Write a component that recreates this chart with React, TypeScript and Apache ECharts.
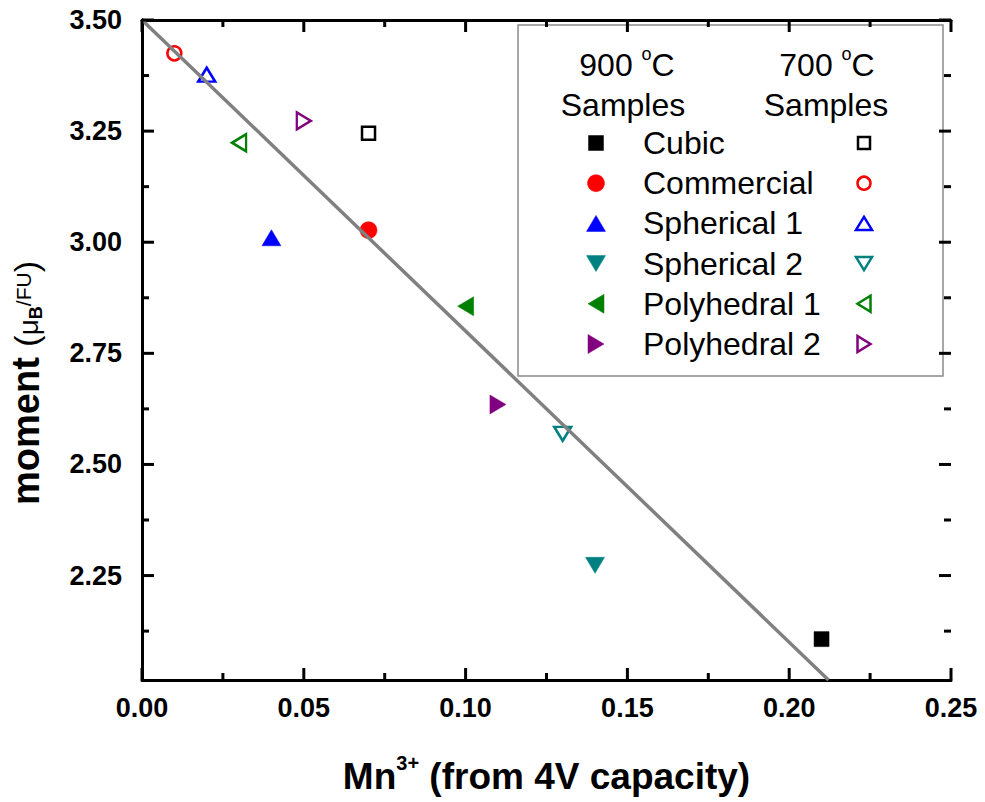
import React, { useEffect, useRef } from "react";
import * as echarts from "echarts";

// Samples, in legend order
const SAMPLE_NAMES = ["Cubic", "Commercial", "Spherical 1", "Spherical 2", "Polyhedral 1", "Polyhedral 2"];

// 900 °C samples: Mn3+ fraction and magnetic moment (μB per formula unit)
const MN3_900C = [0.21, 0.07, 0.04, 0.14, 0.1, 0.11];
const MOMENT_900C = [2.107, 3.027, 3.01, 2.273, 2.856, 2.635];

// 700 °C samples
const MN3_700C = [0.07, 0.01, 0.02, 0.13, 0.03, 0.05];
const MOMENT_700C = [3.245, 3.425, 3.377, 2.569, 3.224, 3.273];

// Linear fit: moment = intercept + slope * Mn3+
const FIT_INTERCEPT = 3.5;
const FIT_SLOPE = -7;

// Axis ranges and ticks
const X_MIN = 0;
const X_MAX = 0.25;
const X_STEP = 0.05;
const X_TICKS = [0, 0.05, 0.1, 0.15, 0.2, 0.25];
const X_MINOR_TICKS = [0.025, 0.075, 0.125, 0.175, 0.225];
const Y_MIN = 2.015;
const Y_MAX = 3.5;
const Y_TICKS = [2.25, 2.5, 2.75, 3.0, 3.25, 3.5];
const Y_MINOR_TICKS = [2.125, 2.375, 2.625, 2.875, 3.125, 3.375];

const FONT = "'Liberation Sans', Arial, Helvetica, sans-serif";
const COLORS = ["#000000", "#ff0000", "#0000ff", "#008080", "#008000", "#800080"];
const SYMBOLS = ["rect", "circle", "triangle", "triangle", "triangle", "triangle"];
const ROTATIONS = [0, 0, 0, 180, 90, -90];
const DIRS = ["", "", "up", "down", "left", "right"];

const MAJOR_LEN = 12;
const MINOR_LEN = 7;
const TICK_W = 3;

function filledSize(i: number): number | number[] {
  if (i === 0) return 15;
  if (i === 1) return 17;
  return [19, 16];
}
function openSize(i: number): number | number[] {
  if (i === 0) return 13;
  if (i === 1) return 14;
  return [17, 14];
}

// Legend glyphs
function legendGlyph(i: number, cx: number, cy: number, open: boolean): any {
  const color = COLORS[i];
  const style = open
    ? { fill: "#ffffff", stroke: color, lineWidth: 2.5 }
    : { fill: color, stroke: color, lineWidth: 0.5 };
  if (i === 0) {
    const s = open ? 12 : 15;
    return { type: "rect", shape: { x: cx - s / 2, y: cy - s / 2, width: s, height: s }, style };
  }
  if (i === 1) {
    return { type: "circle", shape: { cx, cy, r: open ? 6.5 : 8.5 }, style };
  }
  const w = open ? 16 : 19;
  const h = open ? 13 : 16;
  let pts: number[][] = [];
  switch (DIRS[i]) {
    case "up":
      pts = [[cx, cy - h / 2], [cx + w / 2, cy + h / 2], [cx - w / 2, cy + h / 2]];
      break;
    case "down":
      pts = [[cx, cy + h / 2], [cx + w / 2, cy - h / 2], [cx - w / 2, cy - h / 2]];
      break;
    case "left":
      pts = [[cx - h / 2, cy], [cx + h / 2, cy - w / 2], [cx + h / 2, cy + w / 2]];
      break;
    default:
      pts = [[cx + h / 2, cy], [cx - h / 2, cy - w / 2], [cx - h / 2, cy + w / 2]];
  }
  return { type: "polygon", shape: { points: pts }, style };
}

function headerText(text: string, x: number, y: number): any {
  return {
    type: "text",
    x,
    y,
    style: {
      text,
      fill: "#000",
      fontSize: 32,
      fontFamily: FONT,
      align: "center",
      verticalAlign: "middle",
      textAlign: "center",
      textVerticalAlign: "middle",
      rich: {
        n: { fontSize: 32, fontFamily: FONT, fill: "#000", verticalAlign: "bottom", lineHeight: 36 },
        s: { fontSize: 18, fontFamily: FONT, fill: "#000", verticalAlign: "top", lineHeight: 18 },
      },
    },
  };
}

function buildLegend(): any {
  const children: any[] = [
    {
      type: "rect",
      shape: { x: 518, y: 25, width: 425, height: 351 },
      style: { fill: "#ffffff", stroke: "#8a8a8a", lineWidth: 1.5 },
    },
    headerText("{n|900 }{s|o}{n|C}", 627, 63),
    headerText("{n|Samples}", 623, 103),
    headerText("{n|700 }{s|o}{n|C}", 827, 63),
    headerText("{n|Samples}", 826, 103),
  ];
  SAMPLE_NAMES.forEach((name, i) => {
    const y = 143 + i * 40.2;
    children.push(legendGlyph(i, 596, y, false));
    children.push({
      type: "text",
      x: 643,
      y,
      style: {
        text: name,
        fill: "#000",
        fontSize: 32,
        fontFamily: FONT,
        align: "left",
        verticalAlign: "middle",
        textAlign: "left",
        textVerticalAlign: "middle",
      },
    });
    children.push(legendGlyph(i, 864, y, true));
  });
  return { type: "group", z: 100, children };
}

// Y-axis title, written bottom-to-top
function buildYTitle(): any {
  return {
    type: "text",
    x: 23,
    y: 383,
    rotation: Math.PI / 2,
    z: 100,
    style: {
      text: "{b|moment }{p|(}{mu|μ}{sub|B}{sup|/FU}{p|)}",
      align: "center",
      verticalAlign: "middle",
      textAlign: "center",
      textVerticalAlign: "middle",
      fill: "#000",
      rich: {
        b: { fontSize: 38, fontWeight: "bold", fontFamily: FONT, fill: "#000", verticalAlign: "bottom", lineHeight: 44 },
        p: { fontSize: 34, fontFamily: FONT, fill: "#000", verticalAlign: "bottom", padding: [0, 0, 2, 0] },
        mu: { fontSize: 28, fontFamily: FONT, fill: "#000", verticalAlign: "bottom", padding: [0, 0, 3, 0] },
        sub: { fontSize: 18, fontWeight: "bold", fontFamily: FONT, fill: "#000", verticalAlign: "bottom" },
        sup: { fontSize: 21, fontFamily: FONT, fill: "#000", verticalAlign: "top", padding: [12, 0, 0, 0] },
      },
    },
  };
}

// Inward frame ticks, drawn as thin bars anchored on the frame edges
function tickSeries(data: number[][], size: number[], offset: number[]): any {
  return {
    type: "scatter",
    symbol: "rect",
    symbolSize: size,
    symbolOffset: offset,
    itemStyle: { color: "#000000", opacity: 1 },
    silent: true,
    clip: false,
    data,
    z: 3,
  };
}

const tickLabel = {
  color: "#000",
  fontSize: 27,
  fontWeight: "bold" as const,
  fontFamily: FONT,
};

function frameAxisLine(): any {
  return { show: true, lineStyle: { color: "#000", width: 3 } };
}

export default function App() {
  const ref = useRef<HTMLDivElement>(null);

  useEffect(() => {
    if (!ref.current) return;
    const chart = echarts.init(ref.current, undefined, { renderer: "svg" });

    const fitEndX = (Y_MIN - FIT_INTERCEPT) / FIT_SLOPE;

    const series: any[] = [];
    SAMPLE_NAMES.forEach((name, i) => {
      series.push({
        name: `${name} (900 °C)`,
        type: "scatter",
        symbol: SYMBOLS[i],
        symbolRotate: ROTATIONS[i],
        symbolSize: filledSize(i),
        itemStyle: { color: COLORS[i], borderColor: COLORS[i], borderWidth: 0.5, opacity: 1 },
        data: [[MN3_900C[i], MOMENT_900C[i]]],
      });
      series.push({
        name: `${name} (700 °C)`,
        type: "scatter",
        symbol: SYMBOLS[i],
        symbolRotate: ROTATIONS[i],
        symbolSize: openSize(i),
        itemStyle: { color: "rgba(255,255,255,0)", borderColor: COLORS[i], borderWidth: 2.5, opacity: 1 },
        data: [[MN3_700C[i], MOMENT_700C[i]]],
      });
    });
    series.push({
      name: "Linear fit",
      type: "line",
      symbol: "none",
      lineStyle: { color: "#808080", width: 3.5 },
      data: [
        [X_MIN, FIT_INTERCEPT],
        [fitEndX, Y_MIN],
      ],
    });

    // frame ticks: bottom/top for x, left/right for y
    series.push(tickSeries(X_TICKS.map((v) => [v, Y_MIN]), [TICK_W, MAJOR_LEN], [0, -MAJOR_LEN / 2]));
    series.push(tickSeries(X_TICKS.map((v) => [v, Y_MAX]), [TICK_W, MAJOR_LEN], [0, MAJOR_LEN / 2]));
    series.push(tickSeries(X_MINOR_TICKS.map((v) => [v, Y_MIN]), [TICK_W, MINOR_LEN], [0, -MINOR_LEN / 2]));
    series.push(tickSeries(X_MINOR_TICKS.map((v) => [v, Y_MAX]), [TICK_W, MINOR_LEN], [0, MINOR_LEN / 2]));
    series.push(tickSeries(Y_TICKS.map((v) => [X_MIN, v]), [MAJOR_LEN, TICK_W], [MAJOR_LEN / 2, 0]));
    series.push(tickSeries(Y_TICKS.map((v) => [X_MAX, v]), [MAJOR_LEN, TICK_W], [-MAJOR_LEN / 2, 0]));
    series.push(tickSeries(Y_MINOR_TICKS.map((v) => [X_MIN, v]), [MINOR_LEN, TICK_W], [MINOR_LEN / 2, 0]));
    series.push(tickSeries(Y_MINOR_TICKS.map((v) => [X_MAX, v]), [MINOR_LEN, TICK_W], [-MINOR_LEN / 2, 0]));

    chart.setOption({
      animation: false,
      backgroundColor: "#ffffff",
      grid: { left: 142, right: 34, top: 20, bottom: 122, containLabel: false },
      xAxis: [
        {
          type: "value",
          position: "bottom",
          min: X_MIN,
          max: X_MAX,
          interval: X_STEP,
          axisLine: frameAxisLine(),
          axisTick: { show: false },
          splitLine: { show: false },
          axisLabel: { ...tickLabel, margin: 14, formatter: (v: number) => v.toFixed(2) },
          name: "{b|Mn}{sup|3+}{b| (from 4V capacity)}",
          nameLocation: "middle",
          nameGap: 73,
          nameTextStyle: {
            rich: {
              b: { fontSize: 37, fontWeight: "bold", fontFamily: FONT, color: "#000", verticalAlign: "bottom", lineHeight: 42 },
              sup: { fontSize: 20, fontWeight: "bold", fontFamily: FONT, color: "#000", verticalAlign: "top", lineHeight: 20 },
            },
          },
        },
        {
          type: "value",
          position: "top",
          min: X_MIN,
          max: X_MAX,
          interval: X_STEP,
          axisLine: frameAxisLine(),
          axisTick: { show: false },
          splitLine: { show: false },
          axisLabel: { show: false },
        },
      ],
      yAxis: [
        {
          type: "value",
          position: "left",
          min: Y_MIN,
          max: Y_MAX,
          axisLine: frameAxisLine(),
          axisTick: { show: false },
          splitLine: { show: false },
          axisLabel: { ...tickLabel, margin: 20, customValues: Y_TICKS, formatter: (v: number) => v.toFixed(2) },
        },
        {
          type: "value",
          position: "right",
          min: Y_MIN,
          max: Y_MAX,
          axisLine: frameAxisLine(),
          axisTick: { show: false },
          splitLine: { show: false },
          axisLabel: { show: false },
        },
      ],
      series,
      graphic: [buildLegend(), buildYTitle()],
    });

    return () => chart.dispose();
  }, []);

  return (
    <div
      ref={ref}
      style={{ position: "absolute", left: 0, top: 0, width: 985, height: 802, background: "#fff" }}
    />
  );
}
